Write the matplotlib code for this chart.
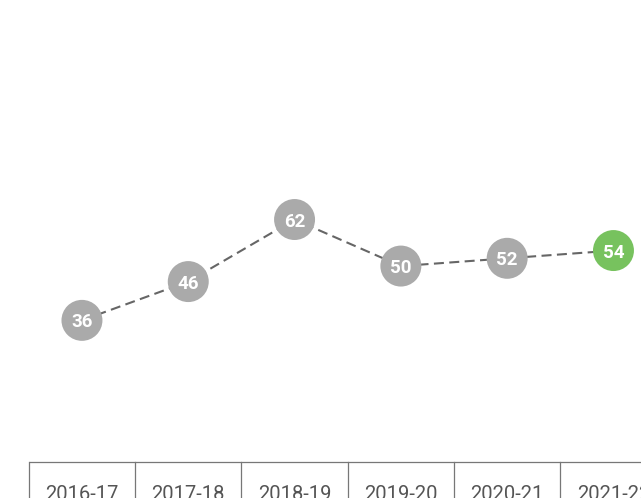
import matplotlib
matplotlib.use("Agg")
import matplotlib.pyplot as plt

# Season labels and values
seasons = ["2016-17", "2017-18", "2018-19", "2019-20", "2020-21", "2021-22"]
values = [36, 46, 62, 50, 52, 54]
highlight = "2021-22"

GREY = "#aaaaaa"
GREEN = "#77c25e"
LINE = "#666666"

fig = plt.figure(figsize=(6.41, 4.98), dpi=100)
ax = fig.add_axes([0, 0, 1, 1])
ax.set_xlim(-0.771, 5.259)
ax.set_ylim(-9.8, 118.6)
ax.axis("off")

x = list(range(len(seasons)))

# Dashed trend line behind the markers
ax.plot(x, values, color=LINE, lw=1.5, dashes=(4.8, 2.6), zorder=1)

colors = [GREEN if s == highlight else GREY for s in seasons]
ax.scatter(x, values, s=29.5 ** 2, c=colors, edgecolors="none", zorder=2)
for xi, v in zip(x, values):
    ax.text(xi, v, str(v), ha="center", va="center_baseline", color="white",
            fontsize=13.5, fontweight="bold", family="Roboto", zorder=3)

# Season table along the bottom
table_top = -0.5
ax.plot([-0.5, len(seasons) + 0.5], [table_top, table_top], color="#777777",
        lw=0.9, solid_capstyle="butt", clip_on=False)
for i in range(len(seasons) + 1):
    ax.plot([i - 0.5, i - 0.5], [table_top, -12], color="#777777", lw=0.9,
            clip_on=False)
for xi, s in zip(x, seasons):
    ax.text(xi, -10.4, s, ha="center", va="baseline", color="#555555",
            fontsize=14.5, family="Roboto", clip_on=False)

fig.savefig("out.png", dpi=100)
